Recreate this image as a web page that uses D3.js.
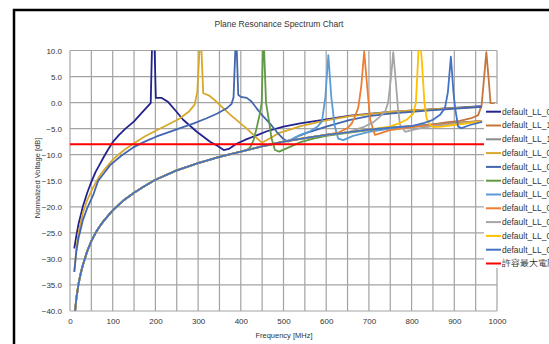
<!DOCTYPE html>
<html>
<head>
<meta charset="utf-8">
<script src="https://cdn.jsdelivr.net/npm/d3@7"></script>
<style>
  body { margin: 0; background: #fff; }
  text { font-family: "Liberation Sans", Arial, sans-serif; fill: #333; }
</style>
</head>
<body>
<script>
// values: [frequency MHz, normalized voltage dB]
const lowerBase = [[10,-41.5],[15,-37.5],[20,-34.8],[25,-32.8],[30,-31.2],[40,-28.6],[50,-26.6],[60,-25],[70,-23.7],[80,-22.6],[100,-20.7],[125,-18.8],[150,-17.3],[175,-16],[200,-14.8],[250,-13],[300,-11.6],[350,-10.4],[400,-9.4],[450,-8.4],[500,-7.5],[550,-6.8],[600,-6.2],[650,-5.7],[700,-5.2],[750,-4.8],[800,-4.5],[850,-4.2],[900,-3.9],[965,-3.5]];

const navyPts = [[10,-28],[15,-25.5],[20,-23.3],[30,-20],[40,-17.4],[50,-15.2],[60,-13.3],[70,-11.8],[80,-10.3],[90,-8.9],[100,-7.6],[115,-6.2],[130,-5],[150,-3.6],[170,-1.8],[189,-0.1],[193,14],[197,14],[201,0.9],[215,0.9],[230,0.1],[250,-1.8],[265,-3.3],[297,-5.6],[328,-7.5],[345,-8.3],[360,-9.1],[372,-8.9],[390,-7.9],[414,-7.0],[440,-6.2],[461,-5.5],[500,-4.6],[539,-4.0],[600,-3.2],[656,-2.5],[749,-1.8],[843,-1.3],[965,-0.7]];
const goldPts = [[10,-32.5],[15,-28],[20,-25],[30,-21.2],[40,-18.8],[50,-17],[60,-15.4],[70,-14],[80,-12.9],[100,-11],[113,-10],[130,-8.9],[148,-7.9],[175,-6.5],[203,-5.3],[230,-4.2],[258,-3.0],[280,-1.6],[292,-0.4],[298,2],[306,14],[312,1.8],[325,1.4],[340,0.4],[375,-2.3],[414,-5.0],[449,-7.7],[470,-6.8],[490,-5.8],[515,-5.2],[540,-4.5],[600,-3.4],[656,-2.6],[749,-1.8],[843,-1.3],[965,-0.8]];
const bluePts = [[10,-32.5],[15,-28.5],[20,-26],[25,-24.3],[30,-22.6],[40,-20.3],[55,-17.6],[66,-15],[80,-13.5],[94,-12.0],[120,-10.2],[148,-8.6],[175,-7.5],[203,-6.5],[230,-5.7],[258,-4.9],[290,-4.0],[320,-3.0],[345,-2.1],[367,-1.1],[378,-0.3],[383,1],[389,14],[394,1.5],[400,1.1],[414,0.9],[425,0.2],[437,-1.1],[452,-2.6],[468,-4.0],[485,-5.7],[500,-7.0],[511,-7.5],[530,-6.6],[562,-5.6],[600,-4.6],[656,-3.3],[700,-2.6],[749,-2.1],[843,-1.5],[965,-0.8]];
const greenPts = [[415,-9.0],[422,-8.6],[430,-7.2],[437,-4.9],[445,-2.0],[449,0],[453,14],[459,0],[466,-3.5],[472,-6.9],[480,-9.1],[490,-9.4],[515,-8.5],[540,-7.6],[570,-6.9],[600,-6.4],[650,-5.8],[700,-5.3],[750,-4.9],[800,-4.6],[850,-4.3],[900,-4.0],[965,-3.6]];
const lightBluePts = [[515,-7.2],[539,-6.2],[562,-5.5],[580,-4.6],[590,-3.6],[598,1],[605,9.1],[612,1],[620,-4.5],[628,-6.9],[640,-7.2],[663,-6.4],[700,-5.6],[750,-5.0],[800,-4.6],[850,-4.3],[900,-4.0],[965,-3.6]];
const orangePts = [[630,-5.7],[650,-4.9],[660,-4.0],[667,-2.7],[675,-1.0],[682,3],[689,9.8],[696,3],[703,-3.3],[714,-6.2],[726,-5.9],[749,-5.3],[800,-4.7],[850,-4.3],[900,-4.0],[965,-3.5]];
const greyPts = [[690,-4.6],[710,-3.8],[726,-2.7],[738,-1.7],[745,0],[752,5],[757,9.7],[763,4],[768,-1],[773,-4.3],[785,-5.6],[796,-5.4],[820,-4.9],[850,-4.5],[900,-4.1],[965,-3.6]];
const yellowPts = [[749,-4.6],[770,-4.0],[788,-3.3],[804,-2.1],[810,0],[815,8],[818,14],[824,8],[830,0],[835,-3],[843,-4.3],[851,-4.7],[870,-4.6],[900,-4.3],[965,-3.6]];
const blue2Pts = [[830,-3.9],[850,-3.3],[866,-2.4],[878,-1.1],[885,2],[892,8.8],[898,2],[902,-1.1],[909,-4.6],[917,-4.9],[937,-4.3],[965,-3.7]];
const brownPts = [[880,-3.8],[913,-3.5],[940,-3.0],[956,-2.4],[964,-0.5],[970,5],[975,9.7],[980,5],[985,-0.2],[995,-0.3]];
const limitPts = [[0,-8],[970,-8]];

const seriesNames = ["default_LL_01","default_LL_10","default_LL_11","default_LL_02","default_LL_03","default_LL_04","default_LL_05","default_LL_06","default_LL_07","default_LL_08","default_LL_09","許容最大電圧"];
const colors = ["#23238e","#c5763d","#8a8a8a","#d8a82a","#4466ae","#609a45","#5b9bd5","#ed7d31","#a5a5a5","#ffc000","#4472c4","#ff0000"];
const xTicks = d3.range(0, 1001, 100);
const yTicks = d3.range(-40, 11, 5);

// high-resonance series run along the lower curve until they start to rise
function fromBase(cut, pts) {
  return lowerBase.filter(p => p[0] <= cut).concat(pts);
}

const seriesData = [
  navyPts,
  fromBase(850, brownPts),
  lowerBase,
  goldPts,
  bluePts,
  fromBase(400, greenPts),
  fromBase(500, lightBluePts),
  fromBase(600, orangePts),
  fromBase(650, greyPts),
  fromBase(700, yellowPts),
  fromBase(800, blue2Pts),
  limitPts
];

const W = 549, H = 344;
const svg = d3.select("body").append("svg")
  .attr("width", W).attr("height", H);

// chart frame
svg.append("rect")
  .attr("x", 14).attr("y", 10).attr("width", 620).attr("height", 400)
  .attr("fill", "#fff").attr("stroke", "#000").attr("stroke-width", 2.5);

svg.append("text")
  .attr("x", 279).attr("y", 27)
  .attr("text-anchor", "middle")
  .attr("font-size", "8.5px")
  .text("Plane Resonance Spectrum Chart");

const x = d3.scaleLinear().domain([0, 1000]).range([70, 497]);
const y = d3.scaleLinear().domain([-40, 10]).range([311, 50.5]);

// grid
const grid = svg.append("g").attr("stroke", "#a3a3a3").attr("stroke-width", 1.2);
grid.selectAll("line.v").data(d3.range(0, 1001, 50)).join("line")
  .attr("class", "v")
  .attr("x1", d => x(d)).attr("x2", d => x(d))
  .attr("y1", y(10)).attr("y2", y(-40));
grid.selectAll("line.h").data(yTicks).join("line")
  .attr("class", "h")
  .attr("x1", x(0)).attr("x2", x(1000))
  .attr("y1", d => y(d)).attr("y2", d => y(d));

// axes
const xAxis = svg.append("g")
  .attr("transform", `translate(0,${y(-40)})`)
  .call(d3.axisBottom(x).tickValues(xTicks).tickFormat(d3.format("d")).tickSize(0).tickPadding(7));
xAxis.select(".domain").remove();
xAxis.selectAll("text").attr("font-size", "8px").attr("fill", "#333");

const yAxis = svg.append("g")
  .attr("transform", `translate(${x(0)},0)`)
  .call(d3.axisLeft(y).tickValues(yTicks).tickFormat(d3.format(".1f")).tickSize(0).tickPadding(8));
yAxis.select(".domain").remove();
yAxis.selectAll("text").attr("font-size", "8px").attr("fill", "#333");

svg.append("text")
  .attr("x", 284).attr("y", 338)
  .attr("text-anchor", "middle")
  .attr("font-size", "7.5px")
  .text("Frequency [MHz]");

svg.append("text")
  .attr("transform", "translate(40,178) rotate(-90)")
  .attr("text-anchor", "middle")
  .attr("font-size", "7.5px")
  .text("Normalized Voltage [dB]");

// lines, clipped to the plot area
svg.append("clipPath").attr("id", "plotclip")
  .append("rect")
  .attr("x", x(0)).attr("y", y(10))
  .attr("width", x(1000) - x(0)).attr("height", y(-40) - y(10));

const line = d3.line().x(d => x(d[0])).y(d => y(d[1]));

svg.append("g").attr("clip-path", "url(#plotclip)")
  .selectAll("path").data(seriesData).join("path")
  .attr("d", line)
  .attr("fill", "none")
  .attr("stroke", (d, i) => colors[i])
  .attr("stroke-width", (d, i) => i === 11 ? 2 : 1.8)
  .attr("stroke-linejoin", "round");

// legend
const legend = svg.append("g");
legend.append("rect")
  .attr("x", 484).attr("y", 104).attr("width", 80).attr("height", 164)
  .attr("fill", "#fff");
const item = legend.selectAll("g.item").data(seriesNames).join("g")
  .attr("class", "item")
  .attr("transform", (d, i) => `translate(486,${111.7 + i * 13.8})`);
item.append("line")
  .attr("x1", 0).attr("x2", 15)
  .attr("stroke", (d, i) => colors[i])
  .attr("stroke-width", 2);
item.append("text")
  .attr("x", 16).attr("dy", "0.35em")
  .attr("font-size", "8.5px")
  .text(d => d);
</script>
</body>
</html>
